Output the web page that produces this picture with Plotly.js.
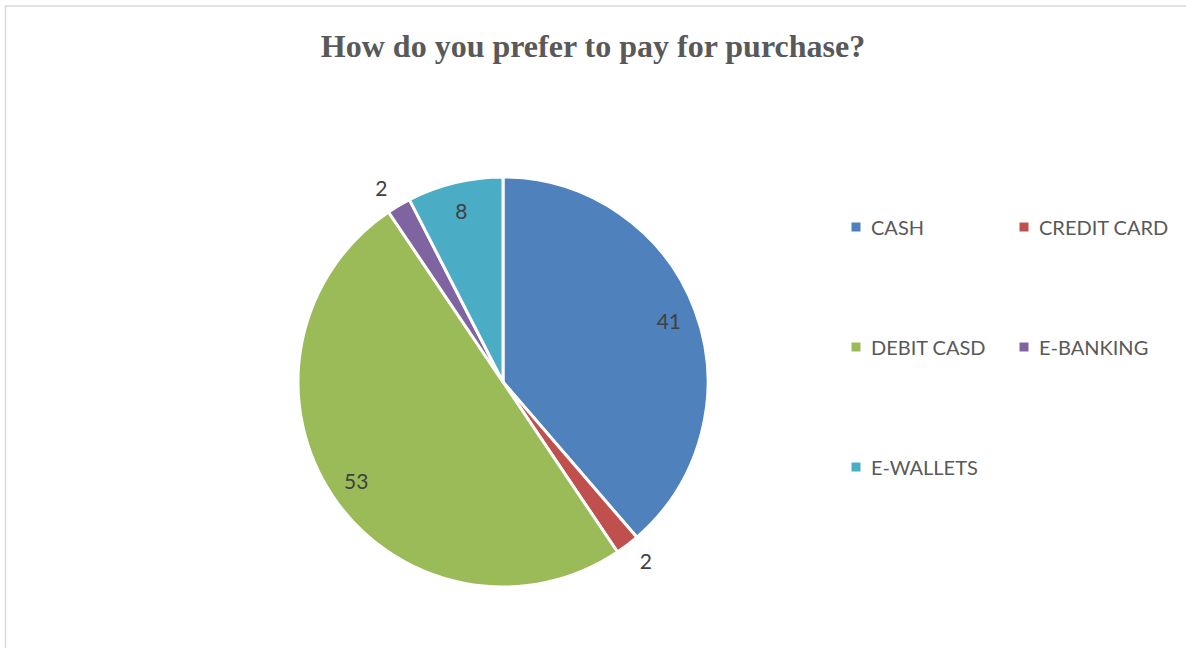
<!DOCTYPE html>
<html><head><meta charset="utf-8">
<script src="https://cdn.plot.ly/plotly-3.0.1.min.js"></script>
<style>html,body{margin:0;padding:0;background:#fff}#chart{width:1186px;height:648px}</style>
</head><body><div id="chart"></div>
<script>
const titleText = 'How do you prefer to pay for purchase?';
const labels = ['CASH', 'CREDIT CARD', 'DEBIT CASD', 'E-BANKING', 'E-WALLETS'];
const values = [41, 2, 53, 2, 8];
const colors = ['#4F81BD', '#C0504D', '#9BBB59', '#8064A2', '#4BACC6'];
const labelPositions = ['inside', 'outside', 'inside', 'outside', 'inside'];

const W = 1186, H = 648;
const cx = 503, cy = 382, R = 205;
const dom = {x: [(cx - R) / W, (cx + R) / W], y: [(H - cy - R) / H, (H - cy + R) / H]};
const RL = R + 10; // label layer radius (pushes outside labels a little further out)
const domL = {x: [(cx - RL) / W, (cx + RL) / W], y: [(H - cy - RL) / H, (H - cy + RL) / H]};

const pie = {
  type: 'pie', labels: labels, values: values, sort: false, direction: 'clockwise', rotation: 0,
  domain: dom, marker: {colors: colors, line: {color: '#ffffff', width: 3}},
  textinfo: 'none', showlegend: false, hoverinfo: 'label+value'
};
// label layer: same slices, transparent, labels placed near the rim like the original
const pieLabels = {
  type: 'pie', labels: labels, values: values, sort: false, direction: 'clockwise', rotation: 0,
  domain: domL, hole: 0.646, marker: {colors: labels.map(() => 'rgba(0,0,0,0)'), line: {width: 0}},
  textinfo: 'value', textposition: labelPositions, insidetextorientation: 'horizontal',
  textfont: {family: 'Lato, sans-serif', size: 21, color: '#404040'},
  showlegend: false, hoverinfo: 'skip'
};

const legX = 856, legColStep = 168, legY = 227, legRowStep = 120, sq = 9;
const shapes = [{
  type: 'rect', xref: 'paper', yref: 'paper', x0: 5.5 / W, x1: 1.02, y0: -0.02, y1: 1 - 6 / H,
  line: {color: '#d9d9d9', width: 1.5}, fillcolor: 'rgba(0,0,0,0)'
}];
const annotations = [];
labels.forEach((lab, i) => {
  const col = i % 2, row = Math.floor(i / 2);
  const mx = legX + col * legColStep, my = legY + row * legRowStep;
  shapes.push({type: 'rect', xref: 'paper', yref: 'paper',
    x0: (mx - sq / 2) / W, x1: (mx + sq / 2) / W, y0: 1 - (my + sq / 2) / H, y1: 1 - (my - sq / 2) / H,
    line: {width: 0}, fillcolor: colors[i]});
  annotations.push({xref: 'paper', yref: 'paper', x: (mx + 13) / W, y: 1 - my / H,
    xanchor: 'left', yanchor: 'middle', showarrow: false, text: lab,
    font: {family: 'Lato, sans-serif', size: 20, color: '#595959'}});
});

const layout = {
  width: W, height: H, margin: {l: 0, r: 0, t: 0, b: 0},
  paper_bgcolor: '#ffffff', plot_bgcolor: '#ffffff',
  title: {text: titleText, x: 0.5, xanchor: 'center', xref: 'container', y: 1 - 46 / H, yref: 'container', yanchor: 'middle',
    font: {family: '"Times New Roman", "Liberation Serif", serif', size: 32, weight: 'bold', color: '#595959'}},
  shapes: shapes, annotations: annotations, showlegend: false
};
Plotly.newPlot('chart', [pie, pieLabels], layout, {displayModeBar: false, responsive: false});
</script></body></html>
